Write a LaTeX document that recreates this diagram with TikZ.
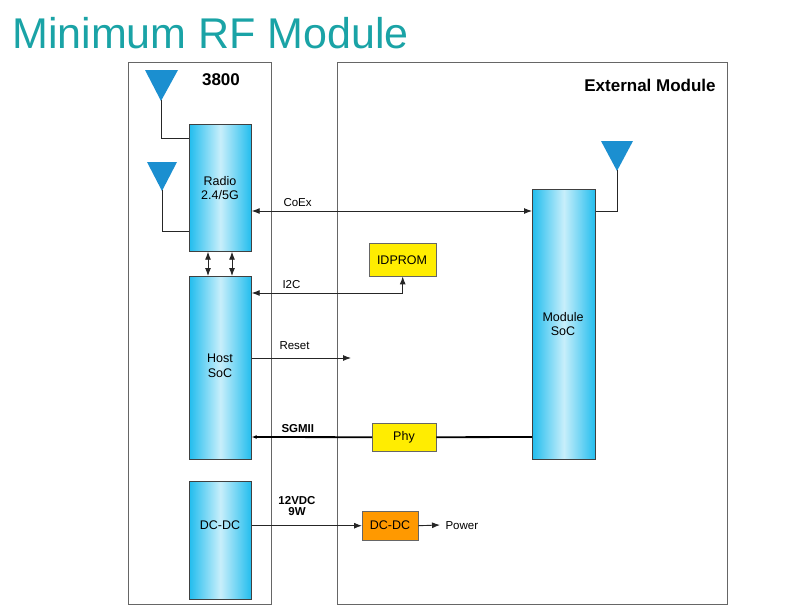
\documentclass[tikz,border=0pt]{standalone}
\usepackage{fontspec}
\setmainfont{Liberation Sans}
\usetikzlibrary{arrows.meta}
\begin{document}
\begin{tikzpicture}[x=1pt,y=-1pt,
  blk/.style={draw=black!75,line width=0.7pt,left color=cy,right color=cy,middle color=cy!25,shading angle=90},
  yel/.style={draw=black!60,fill=yellow!95!orange},
  frame/.style={draw=black!60,line width=0.8pt},
  wire/.style={draw=black!85,line width=0.9pt},
  arr/.style={wire,-{Latex[length=8pt,width=6pt]}},
  darr/.style={wire,{Latex[length=8pt,width=6pt]}-{Latex[length=8pt,width=6pt]}},
  lbl/.style={font=\fontsize{11.5}{13}\selectfont,anchor=south west},
  txt/.style={font=\fontsize{12.5}{14.5}\selectfont,align=center}]
\definecolor{cy}{HTML}{22BDEE}
\definecolor{ab}{HTML}{1B8FD0}
\definecolor{tl}{HTML}{1AA3A6}
\useasboundingbox (0,0) rectangle (799,611);
\node[anchor=base west,text=tl,font=\fontsize{43}{47}\selectfont,inner sep=0] (title) at (12,48) {Minimum RF Module};
\node[frame,minimum width=143,minimum height=542,anchor=north west,inner sep=0] (b38) at (128,62) {};
\node[frame,minimum width=390,minimum height=542,anchor=north west,inner sep=0] (ext) at (337,62) {};
\node[font=\bfseries\fontsize{17}{19}\selectfont] (t38) at (221,80) {3800};
\node[font=\bfseries\fontsize{17}{19}\selectfont] (text) at (650,85) {External Module};
% blocks
\node[blk,minimum width=62,minimum height=127,anchor=north west,inner sep=0] (radio) at (189,124) {};
\node[txt] (rt) at (220,188) {Radio\\2.4/5G};
\node[blk,minimum width=62,minimum height=183,anchor=north west,inner sep=0] (host) at (189,276) {};
\node[txt] (ht) at (220,366) {Host\\SoC};
\node[blk,minimum width=62,minimum height=118,anchor=north west,inner sep=0] (dc1) at (189,481) {};
\node[txt] (dt) at (220,525) {DC-DC};
\node[blk,minimum width=63,minimum height=270,anchor=north west,inner sep=0] (msoc) at (532,189) {};
\node[txt] (mt) at (563,324) {Module\\SoC};
\node[yel,minimum width=67,minimum height=33,anchor=north west,inner sep=0] (idp) at (369,243) {};
\node[txt] (idpt) at (402,260) {IDPROM};
\node[yel,minimum width=64,minimum height=28,anchor=north west,inner sep=0] (phy) at (372,423) {};
\node[txt] (phyt) at (404,437) {Phy};
\node[draw=black!60,fill=orange!80!yellow,minimum width=56,minimum height=29,anchor=north west,inner sep=0] (dc2) at (362,511) {};
\node[txt] (dc2t) at (390,525) {DC-DC};
% antennas
\fill[ab] (145,70) -- (178,70) -- (161,101) -- cycle;
\fill[ab] (147,162) -- (177,162) -- (162,191) -- cycle;
\fill[ab] (601,141) -- (633,141) -- (617,171) -- cycle;
\coordinate (a1) at (161,100);
\coordinate (a2) at (162,190);
\coordinate (a3) at (617,170);
\draw[wire] (a1) |- (radio.west |- 0,138);
\draw[wire] (a2) |- (radio.west |- 0,231);
\draw[wire] (a3) |- (msoc.east |- 0,211);
% connectors
\draw[darr] (radio.south -| 208,0) -- (host.north -| 208,0);
\draw[darr] (radio.south -| 232,0) -- (host.north -| 232,0);
\draw[darr] (radio.east |- 0,211) -- (msoc.west |- 0,211);
\node[lbl] (lc) at (280,210) {CoEx};
\draw[darr] (host.east |- 0,293) -| (idp.south);
\node[lbl] (li) at (279,292) {I2C};
\coordinate (rs) at (351,358);
\draw[arr] (host.east |- rs) -- (rs);
\node[lbl] (lr) at (276,353) {Reset};
\draw[line width=1.8pt,black] (msoc.west |- 0,437) -- (phy.east);
\draw[line width=1.8pt,black,-{Latex[length=5pt,width=4pt]}] (phy.west) -- (host.east |- 0,437);
\node[lbl,font=\bfseries\fontsize{11.5}{13}\selectfont] (ls) at (278,436) {SGMII};
\draw[arr] (dc1.east |- dc2.west) -- (dc2.west);
\node[font=\bfseries\fontsize{11.5}{11.5}\selectfont,align=center] (lv) at (297,506) {12VDC\\9W};
\coordinate (pw) at (440,525);
\draw[arr] (dc2.east) -- (pw);
\node[anchor=west,font=\fontsize{11.5}{13}\selectfont] (pt) at (442,526) {Power};
\end{tikzpicture}
\end{document}
